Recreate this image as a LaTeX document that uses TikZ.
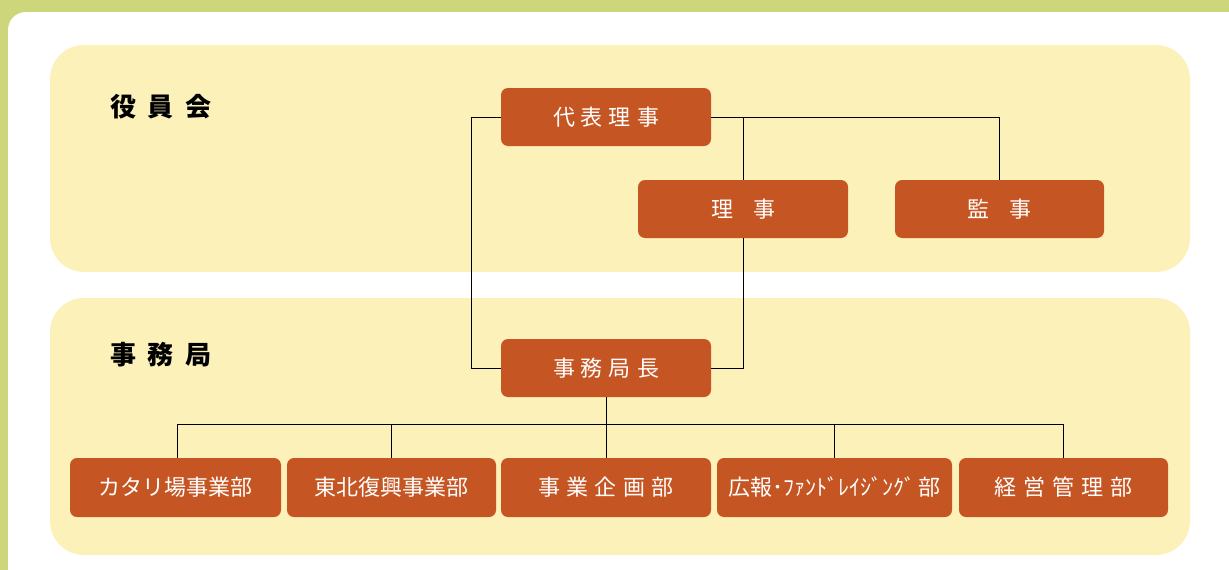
\documentclass[tikz,border=0pt]{standalone}
\usepackage{fontspec}
\setmainfont{Noto Sans CJK JP}
\definecolor{bggreen}{RGB}{206,214,124}
\definecolor{band}{RGB}{253,241,186}
\definecolor{boxor}{RGB}{197,86,35}
\tikzset{
  orgbox/.style={draw=none, fill=boxor, rounded corners=7pt, text=white,
    minimum height=58pt, inner sep=0pt, font=\fontsize{22}{24}\selectfont},
  grp/.style={font=\fontsize{26}{28}\selectfont\bfseries, text=black, inner sep=0pt},
  link/.style={draw=black, line width=0.9pt}
}
\begin{document}
\begin{tikzpicture}[x=1pt,y=-1pt]
\useasboundingbox (0,0) rectangle (1229,570);
\fill[bggreen] (0,0) rectangle (1229,570);
\fill[white, rounded corners=18pt] (8,12) rectangle (1250,600);
\fill[band, rounded corners=34pt] (50,45) rectangle (1190,272);
\fill[band, rounded corners=34pt] (50,298) rectangle (1190,555);

\node[grp] (g1) at (161,107) {役\hspace{12pt}員\hspace{12pt}会};
\node[grp] (g2) at (161,355) {事\hspace{12pt}務\hspace{12pt}局};

\node[orgbox, minimum width=210pt] (dh) at (606,117) {代\hspace{6pt}表\hspace{6pt}理\hspace{6pt}事};
\node[orgbox, minimum width=210pt] (ri) at (743,209) {理\hspace{20pt}事};
\node[orgbox, minimum width=209pt] (kan) at (999.5,209) {監\hspace{20pt}事};
\node[orgbox, minimum width=210pt] (jk) at (606,368) {事\hspace{6pt}務\hspace{6pt}局\hspace{6pt}長};

\node[orgbox, minimum width=211pt, minimum height=59pt] (b1) at (175.5,487.5) {カタリ場事業部};
\node[orgbox, minimum width=209pt, minimum height=59pt] (b2) at (391.5,487.5) {東北復興事業部};
\node[orgbox, minimum width=210pt, minimum height=59pt] (b3) at (606,487.5) {事\hspace{6.5pt}業\hspace{6.5pt}企\hspace{6.5pt}画\hspace{6.5pt}部};
\node[orgbox, minimum width=235pt, minimum height=59pt] (b4) at (834.5,487.5) {広報･ﾌｧﾝﾄﾞﾚｲｼﾞﾝｸﾞ\hspace{3pt}部};
\node[orgbox, minimum width=209pt, minimum height=59pt] (b5) at (1063.5,487.5) {経\hspace{7pt}営\hspace{7pt}管\hspace{7pt}理\hspace{7pt}部};

\coordinate (lft) at (471,0);
\coordinate (bus) at (0,424);

\draw[link] (dh.west) -- (dh.west -| lft) |- (jk.west);
\draw[link] (dh.east) -| (kan.north);
\draw[link] (ri.north |- dh.east) -- (ri.north);
\draw[link] (ri.south) |- (jk.east);
\draw[link] (jk.south) -- (b3.north);
\draw[link] ([xshift=1.5pt]b1.north |- bus) -- (b5.north |- bus);
\draw[link] ([xshift=1.5pt]b1.north |- bus) -- ([xshift=1.5pt]b1.north);
\draw[link] (b2.north |- bus) -- (b2.north);
\draw[link] (b4.north |- bus) -- (b4.north);
\draw[link] (b5.north |- bus) -- (b5.north);
\end{tikzpicture}
\end{document}
